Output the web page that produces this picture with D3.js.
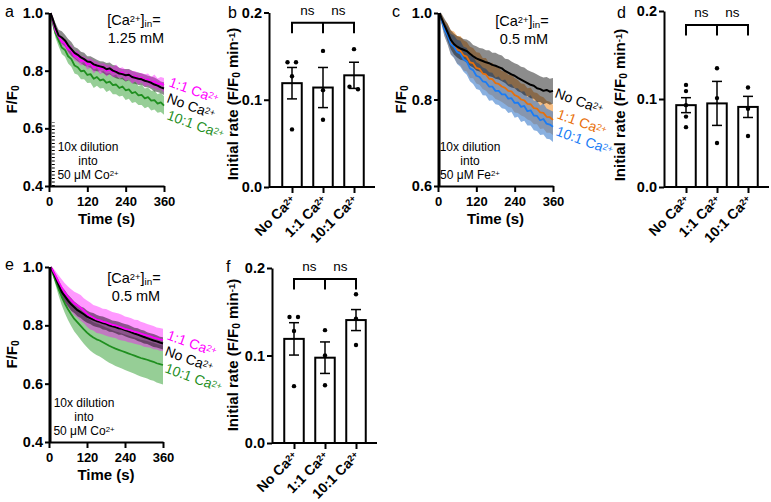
<!DOCTYPE html>
<html><head><meta charset="utf-8">
<script src="https://cdn.jsdelivr.net/npm/d3@7"></script>
<style>body{margin:0;background:#fff} svg{display:block} text{font-family:"Liberation Sans",Arial,sans-serif}</style>
</head><body><svg id="chart" width="771" height="502"></svg>
<script>
// ---------------- DATA ----------------
const TIME = [5,10,20,30,40,50,60,70,80,90,100,110,120,130,140,150,160,170,180,190,200,210,220,230,240,250,260,270,280,290,300,310,320,330,340,350,360];
const TIME_TICKS = [0,120,240,360];
const DILUTION_T = 4;

// panel a (Co2+, [Ca]in = 1.25 mM)
const aNoCa   = [1.000,0.985,0.950,0.922,0.915,0.905,0.888,0.875,0.862,0.855,0.846,0.840,0.832,0.830,0.822,0.818,0.815,0.812,0.805,0.808,0.800,0.796,0.790,0.788,0.784,0.786,0.778,0.775,0.772,0.770,0.765,0.762,0.758,0.752,0.748,0.742,0.738];
const aNoCaE  = [0,0.008,0.015,0.020,0.022,0.020,0.022,0.024,0.020,0.022,0.020,0.022,0.018,0.020,0.022,0.020,0.018,0.020,0.022,0.020,0.020,0.022,0.020,0.018,0.022,0.020,0.022,0.020,0.022,0.020,0.022,0.020,0.022,0.024,0.022,0.020,0.022];
const a11     = [1.000,0.982,0.940,0.918,0.900,0.895,0.874,0.870,0.850,0.850,0.834,0.836,0.822,0.826,0.812,0.817,0.806,0.810,0.800,0.804,0.795,0.799,0.792,0.794,0.783,0.788,0.777,0.781,0.772,0.776,0.766,0.770,0.760,0.763,0.753,0.756,0.750];
const a11E    = [0,0.006,0.012,0.015,0.014,0.016,0.014,0.018,0.015,0.020,0.016,0.014,0.018,0.016,0.022,0.015,0.018,0.016,0.020,0.015,0.018,0.022,0.016,0.018,0.020,0.016,0.022,0.018,0.020,0.016,0.022,0.020,0.018,0.024,0.020,0.022,0.025];
const a101    = [1.000,0.975,0.930,0.905,0.880,0.872,0.850,0.840,0.818,0.812,0.798,0.800,0.785,0.788,0.772,0.778,0.766,0.770,0.758,0.762,0.750,0.752,0.740,0.745,0.732,0.735,0.722,0.726,0.714,0.716,0.704,0.708,0.696,0.698,0.686,0.690,0.679];
const a101E   = [0,0.008,0.015,0.020,0.022,0.024,0.025,0.026,0.028,0.026,0.028,0.030,0.028,0.030,0.032,0.030,0.028,0.030,0.032,0.030,0.032,0.034,0.030,0.032,0.034,0.032,0.034,0.035,0.033,0.035,0.034,0.033,0.034,0.033,0.032,0.033,0.032];

// panel c (Fe2+, [Ca]in = 0.5 mM)
const cNoCa   = [1.000,0.990,0.972,0.955,0.938,0.928,0.922,0.918,0.915,0.912,0.906,0.900,0.895,0.892,0.889,0.886,0.884,0.880,0.878,0.875,0.872,0.866,0.862,0.858,0.855,0.850,0.846,0.842,0.838,0.834,0.832,0.826,0.824,0.820,0.822,0.818,0.820];
const cNoCaE  = [0,0.010,0.015,0.020,0.022,0.024,0.025,0.026,0.025,0.027,0.028,0.026,0.028,0.027,0.029,0.028,0.030,0.028,0.030,0.029,0.030,0.028,0.031,0.030,0.029,0.031,0.030,0.032,0.030,0.031,0.030,0.032,0.030,0.031,0.030,0.030,0.030];
const c11     = [1.000,0.988,0.965,0.952,0.932,0.927,0.915,0.913,0.902,0.899,0.886,0.884,0.873,0.871,0.860,0.858,0.848,0.847,0.838,0.836,0.830,0.827,0.820,0.819,0.810,0.807,0.800,0.798,0.790,0.789,0.780,0.779,0.770,0.769,0.760,0.759,0.753];
const c11E    = [0,0.010,0.018,0.024,0.028,0.030,0.032,0.034,0.035,0.034,0.036,0.035,0.036,0.037,0.036,0.038,0.036,0.038,0.037,0.038,0.036,0.038,0.037,0.038,0.040,0.038,0.037,0.038,0.036,0.038,0.037,0.036,0.038,0.036,0.037,0.036,0.035];
const c101    = [1.000,0.986,0.962,0.948,0.928,0.922,0.910,0.906,0.893,0.888,0.872,0.868,0.855,0.852,0.842,0.840,0.830,0.830,0.820,0.820,0.812,0.812,0.802,0.803,0.792,0.793,0.783,0.785,0.773,0.775,0.763,0.762,0.752,0.755,0.744,0.742,0.737];
const c101E   = [0,0.008,0.015,0.020,0.024,0.026,0.028,0.030,0.029,0.031,0.030,0.032,0.031,0.030,0.032,0.031,0.033,0.032,0.031,0.033,0.032,0.034,0.033,0.032,0.034,0.033,0.035,0.034,0.033,0.035,0.034,0.035,0.034,0.036,0.035,0.034,0.035];

// panel e (Co2+, [Ca]in = 0.5 mM)
const eNoCa   = [1.000,0.990,0.965,0.940,0.915,0.900,0.885,0.872,0.862,0.852,0.845,0.838,0.830,0.825,0.820,0.815,0.812,0.808,0.805,0.800,0.797,0.794,0.790,0.788,0.784,0.780,0.776,0.772,0.768,0.764,0.760,0.756,0.752,0.748,0.745,0.741,0.738];
const eNoCaE  = [0,0.006,0.012,0.016,0.018,0.020,0.020,0.022,0.020,0.021,0.020,0.022,0.021,0.020,0.022,0.021,0.020,0.022,0.021,0.022,0.020,0.021,0.022,0.020,0.021,0.022,0.021,0.020,0.022,0.021,0.022,0.020,0.021,0.022,0.021,0.020,0.021];
const e11     = [1.000,0.992,0.972,0.950,0.930,0.912,0.898,0.886,0.875,0.868,0.860,0.850,0.840,0.832,0.826,0.820,0.817,0.813,0.810,0.806,0.802,0.800,0.796,0.792,0.788,0.785,0.782,0.778,0.776,0.772,0.768,0.765,0.762,0.758,0.755,0.752,0.750];
const e11E    = [0,0.008,0.015,0.022,0.028,0.032,0.035,0.038,0.040,0.042,0.044,0.043,0.045,0.046,0.044,0.046,0.045,0.044,0.046,0.045,0.044,0.043,0.045,0.044,0.042,0.043,0.042,0.041,0.042,0.040,0.041,0.040,0.039,0.040,0.038,0.039,0.038];
const e101    = [1.000,0.985,0.955,0.925,0.898,0.875,0.855,0.838,0.822,0.810,0.798,0.786,0.775,0.766,0.758,0.752,0.748,0.742,0.736,0.730,0.725,0.720,0.716,0.712,0.708,0.704,0.700,0.696,0.692,0.688,0.685,0.682,0.678,0.675,0.670,0.667,0.664];
const e101E   = [0,0.006,0.014,0.022,0.028,0.033,0.037,0.040,0.043,0.045,0.047,0.049,0.050,0.052,0.053,0.054,0.055,0.056,0.057,0.058,0.058,0.059,0.060,0.060,0.061,0.061,0.062,0.062,0.063,0.063,0.064,0.064,0.065,0.065,0.066,0.066,0.067];

// bar panels
const BAR_CATS = ["No", "1:1", "10:1"];   // + " Ca2+"
const bMean = [0.119, 0.114, 0.128];
const bSem  = [0.018, 0.023, 0.015];
const bPts  = [[0.143,0.143,0.127,0.066],[0.156,0.111,0.077],[0.158,0.115,0.112]];
const dMean = [0.093, 0.095, 0.091];
const dSem  = [0.0085, 0.025, 0.012];
const dPts  = [[0.116,0.109,0.093,0.080,0.068],[0.135,0.101,0.050],[0.113,0.089,0.058]];
const fMean = [0.119, 0.0975, 0.1405];
const fSem  = [0.0185, 0.018, 0.012];
const fPts  = [[0.144,0.144,0.128,0.065],[0.129,0.100,0.066],[0.170,0.142,0.112]];
const BAR_TICKS = [0, 0.1, 0.2];
const SIG = ["ns", "ns"];

// ---------------- DRAWING ----------------
const svg = d3.select("#chart");
const COL = {black:"#000000", magenta:"#ff00ff", green:"#1f8f1f", orange:"#e8700a", blue:"#1a7cf5"};
const BAND = {black:["#000000",0.45], magenta:["#ff00ff",0.4], green:["#2e9e2e",0.5], orange:["#f08a20",0.55], blue:["#3a7ccc",0.6]};

function richText(sel, parts) {
  // parts: [text, mode]; mode: undefined | "sup" | "sub"
  parts.forEach(([t, m]) => {
    const ts = sel.append("tspan").text(t);
    if (m === "sup") ts.attr("baseline-shift", "35%").attr("font-size", "0.65em");
    if (m === "sub") ts.attr("baseline-shift", "-15%").attr("font-size", "0.68em");
  });
  return sel;
}

function styleAxis(g, fs) {
  g.select(".domain").attr("stroke", "#000").attr("stroke-width", 2);
  g.selectAll(".tick line").attr("stroke", "#000").attr("stroke-width", 2);
  g.selectAll(".tick text").attr("font-size", fs).attr("font-weight", "bold").attr("fill", "#000")
    .style("font-family", '"Liberation Sans", Arial, sans-serif');
}

function timePanel(p) {
  const g = svg.append("g");
  const x = d3.scaleLinear().domain([0, 360]).range([p.left, p.right]);
  const y = d3.scaleLinear().domain(p.yDomain).range([p.bottom, p.top]);
  const idx = d3.range(TIME.length);
  p.series.forEach(s => {
    const [c, op] = BAND[s.color];
    g.append("path").datum(idx)
      .attr("d", d3.area().x(i => x(TIME[i])).y0(i => y(s.v[i] - s.e[i])).y1(i => y(s.v[i] + s.e[i])))
      .attr("fill", c).attr("fill-opacity", op);
  });
  p.lineOrder.forEach(k => {
    const s = p.series[k];
    g.append("path").datum(idx)
      .attr("d", d3.line().x(i => x(TIME[i])).y(i => y(s.v[i])))
      .attr("fill", "none").attr("stroke", COL[s.color]).attr("stroke-width", s.color === "black" ? 2 : 1.8)
      .attr("stroke-linejoin", "round");
  });
  // dilution marker
  g.append("line").attr("x1", x(DILUTION_T)).attr("x2", x(DILUTION_T))
    .attr("y1", y(p.yDomain[0])).attr("y2", y(1)).attr("stroke", "#000").attr("stroke-width", 2.5);
  if (p.dotted) {
    g.append("line").attr("x1", x(DILUTION_T) + 3).attr("x2", x(DILUTION_T) + 3)
      .attr("y1", y(p.yDomain[0])).attr("y2", y(0.62)).attr("stroke", "#000").attr("stroke-width", 3)
      .attr("stroke-dasharray", "1,2.5");
  }
  const ya = g.append("g").attr("transform", `translate(${p.left},0)`)
    .call(d3.axisLeft(y).tickValues(p.yTicks).tickFormat(d3.format(".1f")).tickSize(4).tickPadding(2).tickSizeOuter(0));
  styleAxis(ya, 14.5);
  const xa = g.append("g").attr("transform", `translate(0,${p.bottom})`)
    .call(d3.axisBottom(x).tickValues(TIME_TICKS).tickSize(6).tickPadding(5).tickSizeOuter(0));
  styleAxis(xa, 13);
  // axis titles
  g.append("text").attr("x", (p.left + p.right) / 2).attr("y", p.bottom + 38).attr("text-anchor", "middle")
    .attr("font-size", 15).attr("font-weight", "bold").text("Time (s)");
  richText(g.append("text").attr("transform", `translate(${p.ylabX},${(p.top + p.bottom) / 2}) rotate(-90)`)
    .attr("text-anchor", "middle").attr("font-size", 15).attr("font-weight", "bold"), [["F/F"], ["0", "sub"]]);
  // concentration annotation
  richText(g.append("text").attr("x", p.noteX).attr("y", p.noteY).attr("text-anchor", "middle").attr("font-size", 14.5),
    [["[Ca"], ["2+", "sup"], ["]"], ["in", "sub"], ["="]]);
  g.append("text").attr("x", p.noteX + 2).attr("y", p.noteY + 18).attr("text-anchor", "middle").attr("font-size", 14.5).text(p.conc);
  // dilution annotation
  const dl = [[["10x dilution"]], [["into"]], [["50 μM " + p.ion], ["2+", "sup"]]];
  dl.forEach((parts, i) => {
    richText(g.append("text").attr("x", p.dilX).attr("y", p.dilY + i * 14).attr("text-anchor", "middle").attr("font-size", 12), parts);
  });
  // legend labels
  p.legend.forEach(L => {
    richText(g.append("text").attr("transform", `translate(${L.x},${L.y}) rotate(20)`)
      .attr("font-size", 14).attr("fill", COL[p.series[L.k].color]), [[L.label + " Ca"], ["2+", "sup"]]);
  });
  // panel letter
  g.append("text").attr("x", p.letterX).attr("y", p.letterY).attr("font-size", 16).text(p.letter);
}

function barPanel(p) {
  const g = svg.append("g");
  const y = d3.scaleLinear().domain([0, 0.2]).range([p.bottom, p.top]);
  const x = d3.scalePoint().domain(BAR_CATS).range([p.c0, p.c2]);
  const bw = 19.5;
  BAR_CATS.forEach((c, i) => {
    const cx = x(c);
    g.append("rect").attr("x", cx - bw / 2).attr("y", y(p.mean[i])).attr("width", bw)
      .attr("height", y(0) - y(p.mean[i])).attr("fill", "#fff").attr("stroke", "#000").attr("stroke-width", 2);
    const lo = y(p.mean[i] - p.sem[i]), hi = y(p.mean[i] + p.sem[i]);
    g.append("line").attr("x1", cx).attr("x2", cx).attr("y1", lo).attr("y2", hi).attr("stroke", "#000").attr("stroke-width", 1.5);
    [lo, hi].forEach(yy => g.append("line").attr("x1", cx - 5).attr("x2", cx + 5).attr("y1", yy).attr("y2", yy)
      .attr("stroke", "#000").attr("stroke-width", 1.5));
    // points: spread near-duplicate values sideways
    const pts = p.pts[i];
    pts.forEach((v, j) => {
      const dupBefore = pts.slice(0, j).filter(w => Math.abs(w - v) < 0.004).length;
      const dupAfter = pts.slice(j + 1).filter(w => Math.abs(w - v) < 0.004).length;
      const off = (dupBefore + dupAfter) > 0 ? (dupBefore > 0 ? 4 : -4.5) : 0;
      g.append("circle").attr("cx", cx + off).attr("cy", y(v)).attr("r", 2.2).attr("fill", "#000");
    });
  });
  // axes
  g.append("line").attr("x1", p.left).attr("x2", p.axisEnd).attr("y1", p.bottom).attr("y2", p.bottom)
    .attr("stroke", "#000").attr("stroke-width", 2);
  const ya = g.append("g").attr("transform", `translate(${p.left},0)`)
    .call(d3.axisLeft(y).tickValues(BAR_TICKS).tickFormat(d3.format(".1f")).tickSize(5).tickPadding(2).tickSizeOuter(0));
  styleAxis(ya, 14.5);
  const xa = g.append("g").attr("transform", `translate(0,${p.bottom})`)
    .call(d3.axisBottom(x).tickSize(6).tickSizeOuter(0).tickFormat(""));
  styleAxis(xa, 14);
  xa.select(".domain").remove();
  xa.selectAll(".tick").each(function(d) {
    const t = d3.select(this).append("text").attr("transform", "translate(4,14) rotate(-45)")
      .attr("text-anchor", "end").attr("font-size", 14).attr("font-weight", "bold").attr("fill", "#000");
    richText(t, [[d + " Ca"], ["2+", "sup"]]);
  });
  // y title
  richText(g.append("text").attr("transform", `translate(${p.ylabX},${p.ylabY}) rotate(-90)`)
    .attr("text-anchor", "middle").attr("font-size", 15).attr("font-weight", "bold"),
    [["Initial rate (F/F"], ["0", "sub"], [" min"], ["-1", "sup"], [")"]]);
  // significance bracket
  const x0 = x(BAR_CATS[0]), x1 = x(BAR_CATS[1]), x2 = x(BAR_CATS[2]);
  const by = p.brY, bd = p.brY + 10.5;
  g.append("path").attr("d", `M${x0},${bd}V${by}H${x2}V${bd}M${x1},${by - 1}V${bd}`)
    .attr("fill", "none").attr("stroke", "#000").attr("stroke-width", 2);
  [[x0, x1], [x1, x2]].forEach(([a, b], i) => {
    g.append("text").attr("x", (a + b) / 2).attr("y", by - 8).attr("text-anchor", "middle").attr("font-size", 13.5).text(SIG[i]);
  });
  g.append("text").attr("x", p.letterX).attr("y", p.letterY).attr("font-size", 16).text(p.letter);
}

// panel a
timePanel({letter:"a", letterX:5, letterY:17, left:49, right:164, top:13, bottom:186, yDomain:[0.4,1.0], yTicks:[0.4,0.6,0.8,1.0],
  ylabX:17, noteX:134, noteY:25, conc:"1.25 mM", ion:"Co", dilX:88, dilY:151, dotted:true,
  series:[{v:a101,e:a101E,color:"green"},{v:aNoCa,e:aNoCaE,color:"black"},{v:a11,e:a11E,color:"magenta"}],
  lineOrder:[0,2,1],
  legend:[{k:2,label:"1:1",x:168,y:86},{k:1,label:"No",x:166,y:102},{k:0,label:"10:1",x:166,y:119}]});
// panel c
timePanel({letter:"c", letterX:392, letterY:17, left:438, right:553, top:13, bottom:186, yDomain:[0.6,1.0], yTicks:[0.6,0.8,1.0],
  ylabX:406, noteX:522, noteY:26, conc:"0.5 mM", ion:"Fe", dilX:470, dilY:151, dotted:false,
  series:[{v:c11,e:c11E,color:"orange"},{v:c101,e:c101E,color:"blue"},{v:cNoCa,e:cNoCaE,color:"black"}],
  lineOrder:[0,1,2],
  legend:[{k:2,label:"No",x:554,y:97},{k:0,label:"1:1",x:556,y:118},{k:1,label:"10:1",x:555,y:135}]});
// panel e
timePanel({letter:"e", letterX:5, letterY:270, left:49, right:163, top:267, bottom:442, yDomain:[0.4,1.0], yTicks:[0.4,0.6,0.8,1.0],
  ylabX:17, noteX:134, noteY:283, conc:"0.5 mM", ion:"Co", dilX:84, dilY:407, dotted:false,
  series:[{v:e101,e:e101E,color:"green"},{v:e11,e:e11E,color:"magenta"},{v:eNoCa,e:eNoCaE,color:"black"}],
  lineOrder:[0,2,1],
  legend:[{k:1,label:"1:1",x:166,y:339},{k:2,label:"No",x:164,y:355},{k:0,label:"10:1",x:164,y:372}]});

barPanel({letter:"b", letterX:228, letterY:18, left:269, axisEnd:375, top:12.5, bottom:187, c0:292, c2:354,
  mean:bMean, sem:bSem, pts:bPts, ylabX:238, ylabY:104, brY:22.7});
barPanel({letter:"d", letterX:617, letterY:18, left:664, axisEnd:769, top:11, bottom:187, c0:686, c2:748,
  mean:dMean, sem:dSem, pts:dPts, ylabX:625, ylabY:105, brY:25});
barPanel({letter:"f", letterX:226, letterY:272, left:272, axisEnd:377, top:268, bottom:443, c0:294, c2:356,
  mean:fMean, sem:fSem, pts:fPts, ylabX:238, ylabY:355, brY:279});
</script></body></html>
